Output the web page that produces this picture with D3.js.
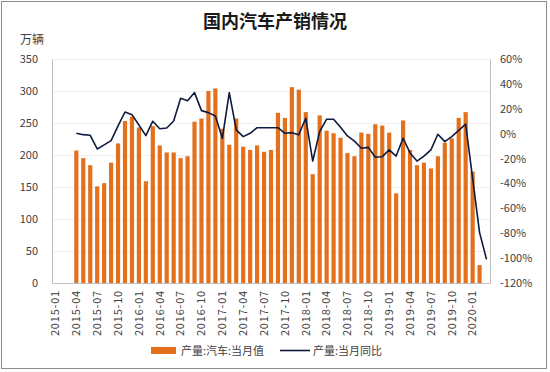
<!DOCTYPE html>
<html><head><meta charset="utf-8">
<script src="https://cdn.jsdelivr.net/npm/d3@7"></script>
<style>body{margin:0;background:#fff}svg{display:block}</style>
</head><body>
<svg id="c" width="550" height="372"></svg>
<script>
const months = [];
for (let y = 2015; y <= 2020; y++) for (let m = 1; m <= 12; m++) {
  if (y === 2020 && m > 3) break;
  months.push(y + "-" + String(m).padStart(2, "0"));
}
const tickLabels = ["2015-01","2015-04","2015-07","2015-10","2016-01","2016-04","2016-07","2016-10","2017-01","2017-04","2017-07","2017-10","2018-01","2018-04","2018-07","2018-10","2019-01","2019-04","2019-07","2019-10","2020-01"];
// production (万辆), starting 2015-04
const prodMonths = months.slice(3, 62);
const production = [207,195,184,151,156,188,218,253,260,243,159,245,215,204,204,195,198,252,257,300,304,241,216,257,213,208,215,205,208,266,258,306,302,267,170,262,238,234,227,203,198,235,233,248,246,235,140,254,208,184,188,179,198,219,226,258,267,174,28];
// YoY (%), starting 2015-04
const yoyMonths = months.slice(3, 63);
const yoy = [0.3,-0.8,-1.3,-12.3,-9,-5.6,6.2,17.4,15.3,7,-1.6,10,4,4.6,10.2,28.4,26.5,33,18.5,16.9,14.2,-3.7,33,3,-2.4,0.3,4.8,4.8,4.8,4.8,0.3,0.8,-0.8,12.4,-22,1.6,11.6,11.6,5.1,-1.8,-6,-11.7,-11,-19,-18.5,-13,-18,-3.7,-15.5,-22,-18,-13,-0.5,-6.4,-2.4,2.6,7.6,-36,-79.5,-101];
const leftTicks = [0,50,100,150,200,250,300,350];
const rightTicks = [-120,-100,-80,-60,-40,-20,0,20,40,60];

const svg = d3.select("#c");
const M = {l: 52, r: 490, t: 59, b: 283};
const font = "'Microsoft YaHei','Noto Sans CJK SC','Noto Sans',sans-serif";

svg.append("rect").attr("x",1.5).attr("y",1.5).attr("width",545).attr("height",367)
  .attr("fill","#fff").attr("stroke","#8c8c8c").attr("stroke-width",1);

const x = d3.scaleBand().domain(months).range([M.l, M.r]).paddingInner(0.4).paddingOuter(0.2);
const xc = d => x(d) + x.bandwidth() / 2;
const y = d3.scaleLinear().domain([0,350]).range([M.b, M.t]);
const y2 = d3.scaleLinear().domain([-120,60]).range([M.b, M.t]);

// gridlines
svg.append("g").selectAll("line").data(leftTicks.slice(1)).join("line")
  .attr("x1",M.l).attr("x2",M.r).attr("y1",d=>y(d)+0.5).attr("y2",d=>y(d)+0.5)
  .attr("stroke","#f0f0f0");

// bars
svg.append("g").selectAll("rect").data(production).join("rect")
  .attr("x",(d,i)=>x(prodMonths[i])).attr("width",x.bandwidth())
  .attr("y",d=>y(d)).attr("height",d=>M.b-y(d)).attr("fill","#E3701C");

// line
svg.append("path").datum(yoy)
  .attr("d", d3.line().x((d,i)=>xc(yoyMonths[i])).y(d=>y2(d)))
  .attr("fill","none").attr("stroke","#0E1A3F").attr("stroke-width",1.6).attr("stroke-linejoin","round");

// axes
const axL = svg.append("g").attr("transform",`translate(${M.l},0)`)
  .call(d3.axisLeft(y).tickValues(leftTicks).tickSize(0).tickPadding(14));
axL.select(".domain").attr("stroke","#bfbfbf");
const axR = svg.append("g").attr("transform",`translate(${M.r},0)`)
  .call(d3.axisRight(y2).tickValues(rightTicks).tickSize(0).tickPadding(10).tickFormat(d=>d+"%"));
axR.select(".domain").attr("stroke","#bfbfbf");
const axB = svg.append("g").attr("transform",`translate(0,${M.b})`)
  .call(d3.axisBottom(x).tickValues(tickLabels).tickSize(0).tickPadding(6));
axB.select(".domain").attr("stroke","#bfbfbf");
axB.selectAll("text").attr("transform","rotate(-90)").attr("text-anchor","end")
  .attr("x",-7).attr("y",0).attr("dy","0.35em").style("letter-spacing","0.8px");
[axL,axR,axB].forEach(a=>a.selectAll("text").attr("fill","#404040").style("font-family",font).style("font-size","11px"));

// title
svg.append("text").attr("x",275).attr("y",28).attr("text-anchor","middle")
  .style("font-family","'Noto Sans CJK SC',sans-serif").style("font-size","18px").style("font-weight","bold")
  .attr("fill","#1a1a1a").text("国内汽车产销情况");
svg.append("text").attr("x",20).attr("y",44)
  .style("font-family",font).style("font-size","12px").attr("fill","#404040").text("万辆");

// legend
const lg = svg.append("g").style("font-family",font).style("font-size","11px").attr("fill","#404040");
lg.append("rect").attr("x",151).attr("y",347).attr("width",25).attr("height",7).attr("fill","#E3701C");
lg.append("text").attr("x",181).attr("y",355).text("产量:汽车:当月值");
lg.append("line").attr("x1",280).attr("x2",310).attr("y1",350.5).attr("y2",350.5).attr("stroke","#0E1A3F").attr("stroke-width",1.6);
lg.append("text").attr("x",313).attr("y",355).text("产量:当月同比");
</script>
</body></html>
